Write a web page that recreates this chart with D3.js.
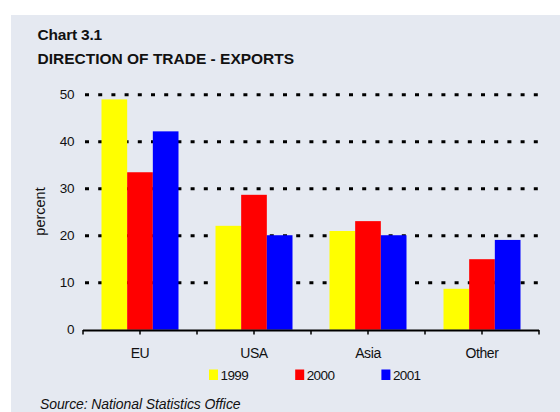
<!DOCTYPE html>
<html>
<head>
<meta charset="utf-8">
<script src="https://cdn.jsdelivr.net/npm/d3@7"></script>
<style>
  body { margin: 0; background: #fff; }
  svg { display: block; font-family: "Liberation Sans", Arial, sans-serif; }
</style>
</head>
<body>
<div id="chart"></div>
<script>
// data
const categories = ['EU', 'USA', 'Asia', 'Other'];
const years = ['1999', '2000', '2001'];
const values1999 = [49.0, 22.1, 21.0, 8.7];
const values2000 = [33.5, 28.7, 23.1, 15.0];
const values2001 = [42.2, 20.1, 20.1, 19.1];
const yTicks = [0, 10, 20, 30, 40, 50];
const colors = ['#ffff00', '#ff0000', '#0000ff'];

const series = [values1999, values2000, values2001];
const rows = categories.map((c, i) => ({
  key: c,
  vals: years.map((y, j) => ({ year: y, value: series[j][i] }))
}));

const width = 560, height = 412;

const svg = d3.select('#chart').append('svg')
  .attr('width', width)
  .attr('height', height);

// panel
svg.append('rect')
  .attr('x', 11).attr('y', 15)
  .attr('width', width - 11).attr('height', height - 15)
  .attr('fill', '#e5e9f1');

svg.append('text')
  .attr('x', 37.5).attr('y', 39.5)
  .attr('font-size', 15.5).attr('font-weight', 'bold')
  .attr('letter-spacing', -0.2)
  .attr('fill', '#111')
  .text('Chart 3.1');

svg.append('text')
  .attr('x', 37.5).attr('y', 63.5)
  .attr('font-size', 15.5).attr('font-weight', 'bold')
  .attr('letter-spacing', 0)
  .attr('fill', '#111')
  .text('DIRECTION OF TRADE - EXPORTS');

const x0 = d3.scaleBand()
  .domain(categories)
  .range([83, 539])
  .padding(0);

const groupW = 77;
const x1 = d3.scaleBand()
  .domain(years)
  .range([0, groupW])
  .padding(0);

const y = d3.scaleLinear()
  .domain([0, 50])
  .range([329.7, 94.7]);

// dotted gridlines
svg.append('g')
  .selectAll('line')
  .data(yTicks.filter(d => d > 0))
  .join('line')
  .attr('x1', 85).attr('x2', 538)
  .attr('y1', d => y(d)).attr('y2', d => y(d))
  .attr('stroke', '#000')
  .attr('stroke-width', 3)
  .attr('stroke-dasharray', '4,9.2');

// y labels
svg.append('g')
  .selectAll('text')
  .data(yTicks)
  .join('text')
  .attr('x', 74)
  .attr('y', d => y(d))
  .attr('dy', '0.35em')
  .attr('text-anchor', 'end')
  .attr('font-size', 13.5)
  .attr('letter-spacing', -0.4)
  .attr('fill', '#111')
  .text(d => d);

svg.append('text')
  .attr('transform', 'translate(45,211.5) rotate(-90)')
  .attr('text-anchor', 'middle')
  .attr('font-size', 14.5)
  .attr('fill', '#111')
  .text('percent');

// bars
const groups = svg.append('g')
  .selectAll('g')
  .data(rows)
  .join('g')
  .attr('transform', d => `translate(${x0(d.key) + (x0.bandwidth() - groupW) / 2},0)`);

groups.selectAll('rect')
  .data(d => d.vals)
  .join('rect')
  .attr('x', d => x1(d.year))
  .attr('width', x1.bandwidth())
  .attr('y', d => y(d.value))
  .attr('height', d => y(0) - y(d.value))
  .attr('fill', (d, i) => colors[i]);

// x axis
const tickPos = [];
categories.forEach(c => {
  tickPos.push(x0(c));
  tickPos.push(x0(c) + x0.bandwidth() / 2);
});
tickPos.push(x0.range()[1]);

const axis = svg.append('g');
axis.append('line')
  .attr('x1', 83).attr('x2', 539)
  .attr('y1', 330.5).attr('y2', 330.5)
  .attr('stroke', '#000').attr('stroke-width', 2);
axis.selectAll('.tick')
  .data(tickPos)
  .join('line')
  .attr('x1', d => d).attr('x2', d => d)
  .attr('y1', 330).attr('y2', 334.5)
  .attr('stroke', '#000').attr('stroke-width', 1.5);

svg.append('g')
  .selectAll('text')
  .data(categories)
  .join('text')
  .attr('x', d => x0(d) + x0.bandwidth() / 2)
  .attr('y', 357.5)
  .attr('text-anchor', 'middle')
  .attr('font-size', 14)
  .attr('letter-spacing', -0.4)
  .attr('fill', '#111')
  .text(d => d);

// legend
const legend = svg.append('g')
  .selectAll('g')
  .data(years)
  .join('g')
  .attr('transform', (d, i) => `translate(${209 + i * 86.2},0)`);

legend.append('rect')
  .attr('x', 0).attr('y', 369.5)
  .attr('width', 9).attr('height', 10.5)
  .attr('fill', (d, i) => colors[i]);

legend.append('text')
  .attr('x', 11.5).attr('y', 379.5)
  .attr('font-size', 13.5)
  .attr('letter-spacing', -0.6)
  .attr('fill', '#111')
  .text(d => d);

svg.append('text')
  .attr('x', 40).attr('y', 409)
  .attr('font-size', 14)
  .attr('font-style', 'italic')
  .attr('letter-spacing', -0.1)
  .attr('fill', '#111')
  .text('Source: National Statistics Office');
</script>
</body>
</html>
